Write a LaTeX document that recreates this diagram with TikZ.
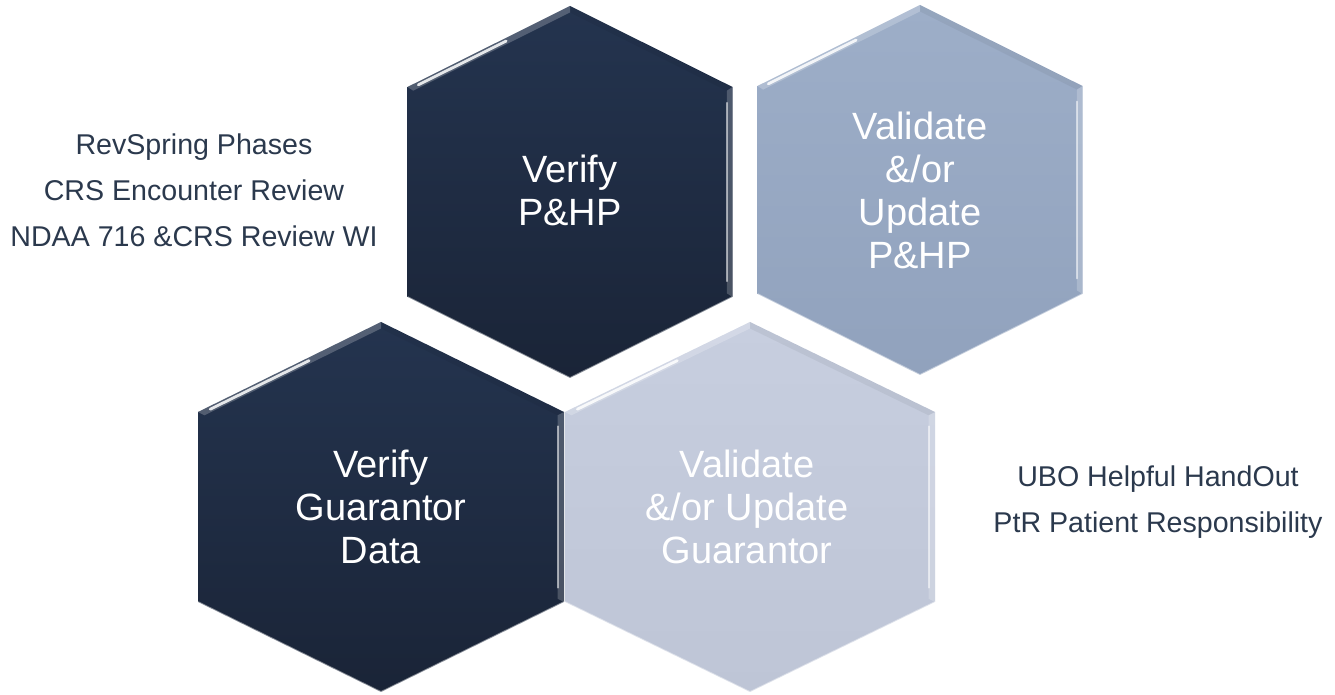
\documentclass[tikz,border=0pt]{standalone}
\usepackage{fontspec}
\setmainfont{Liberation Sans}
\usetikzlibrary{calc}
\definecolor{navytop}{HTML}{24344F}
\definecolor{navybot}{HTML}{1A2437}
\definecolor{steeltop}{HTML}{9DAEC8}
\definecolor{steelbot}{HTML}{91A2BD}
\definecolor{misttop}{HTML}{C7CEDF}
\definecolor{mistbot}{HTML}{BEC5D6}
\definecolor{notecol}{HTML}{2B394D}
\tikzset{
  hextext/.style={text=white, align=center, font=\fontsize{19}{21.5}\selectfont},
  notetext/.style={text=notecol, align=center, font=\fontsize{14.3}{23}\selectfont},
}
% centre x, centre y, half width, top, side, top colour, bottom colour
\newcommand{\hexcell}[7]{%
\begin{scope}[shift={(#1,#2)}]
\def\w{#3}\def\h{#4}\def\s{#5}\def\k{0.965}
\path(0,\h)coordinate(T)(\w,\s)coordinate(UR)(\w,-\s)coordinate(LR)(0,-\h)coordinate(B)(-\w,-\s)coordinate(LL)(-\w,\s)coordinate(UL);
\path(0,\k*\h)coordinate(T')(\k*\w,\k*\s)coordinate(UR')(\k*\w,-\k*\s)coordinate(LR')(0,-\k*\h)coordinate(B')(-\k*\w,-\k*\s)coordinate(LL')(-\k*\w,\k*\s)coordinate(UL');
\shade[top color=#6,bottom color=#7](T)--(UR)--(LR)--(B)--(LL)--(UL)--cycle;
% bevel
\fill[white,fill opacity=0.22](UL)--(T)--(T')--(UL')--cycle;
\fill[white,fill opacity=0.2](UR)--(LR)--(LR')--(UR')--cycle;
\fill[black,fill opacity=0.05](T)--(UR)--(UR')--(T')--cycle;
\draw[white,opacity=0.85,line width=1.4pt,line cap=round]($(UL)!0.5!(UL')!0.05!($(T)!0.5!(T')$)$)--($(UL)!0.5!(UL')!0.6!($(T)!0.5!(T')$)$);
\draw[white,opacity=0.55,line width=1pt,line cap=round]($(UR')!0.06!(LR')$)--($(UR')!0.94!(LR')$);
\draw[white,opacity=0.45,line width=0.8pt](LL)--(B)--(LR);
\end{scope}}
\begin{document}
\begin{tikzpicture}[x=0.5pt,y=0.5pt]
\useasboundingbox(0,0)rectangle(1335,695);
\hexcell{570}{503}{162.5}{186}{105}{navytop}{navybot}
\hexcell{920}{505}{162.5}{185}{104}{steeltop}{steelbot}
\hexcell{381}{188}{183}{185}{95}{navytop}{navybot}
\hexcell{750}{188}{185}{185}{95}{misttop}{mistbot}
\node[hextext](verifyphp)at(570,505){Verify\\P\&HP};
\node[hextext](updatephp)at(920,504.5){Validate\\\&/or\\Update\\P\&HP};
\node[hextext](verifygua)at(381,188.5){Verify\\Guarantor\\Data};
\node[hextext](updategua)at(747,188.5){Validate\\\&/or Update\\Guarantor};
\node[notetext](revnotes)at(194,505){RevSpring Phases\\CRS Encounter Review\\NDAA 716 \&CRS Review WI};
\node[notetext](ubonotes)at(1158,193){UBO Helpful HandOut\\PtR Patient Responsibility};
\end{tikzpicture}
\end{document}
